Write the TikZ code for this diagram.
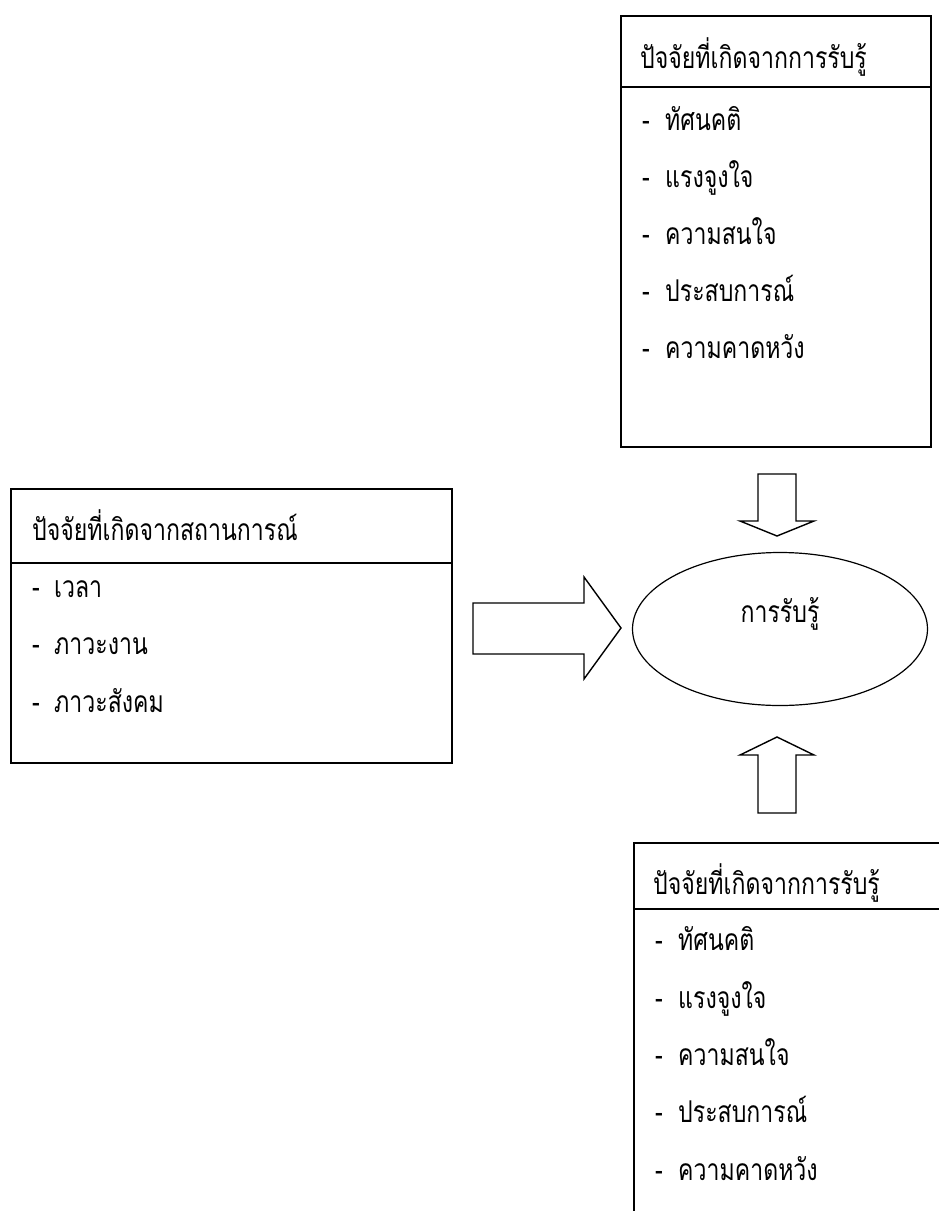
\documentclass[tikz,border=0pt]{standalone}
\usepackage{fontspec}
\usetikzlibrary{shapes.geometric}
\newfontfamily\thaifont[Script=Thai,FakeStretch=0.77]{Loma}
\begin{document}
\begin{tikzpicture}[x=1pt,y=-1pt,
  box/.style={draw, line width=2pt, inner sep=0pt, anchor=north west},
  rule/.style={line width=2pt},
  txt/.style={anchor=base west, inner sep=0pt, font=\thaifont\fontsize{30pt}{36pt}\selectfont},
  blockarrow/.style={draw, line width=1.4pt, fill=white, line join=miter}]
\useasboundingbox (0,0) rectangle (939,1211);
\clip (0,0) rectangle (939,1211);
% top box
\node[box, minimum width=310pt, minimum height=431pt] (topbox) at (620,15) {};
\draw[rule] (topbox.west |- 0,87) -- (topbox.east |- 0,87);
\node[txt] (th) at (640,68) {ปัจจัยที่เกิดจากการรับรู้};
\foreach \y/\w [count=\i] in {130/ทัศนคติ,187/แรงจูงใจ,244/ความสนใจ,301/ประสบการณ์,358/ความคาดหวัง}{
  \node[txt] (td\i) at (642,\y) {-};
  \node[txt] (t\i) at (665,\y) {\w};
}
% left box
\node[box, minimum width=441pt, minimum height=274pt] (leftbox) at (10,488) {};
\draw[rule] (leftbox.west |- 0,563) -- (leftbox.east |- 0,563);
\node[txt] (lh) at (32,540) {ปัจจัยที่เกิดจากสถานการณ์};
\foreach \y/\w [count=\i] in {597/เวลา,654/ภาวะงาน,712/ภาวะสังคม}{
  \node[txt] (ld\i) at (32,\y) {-};
  \node[txt] (l\i) at (54,\y) {\w};
}
% bottom box
\node[box, minimum width=400pt, minimum height=500pt] (botbox) at (633,842) {};
\draw[rule] (botbox.west |- 0,909) -- (botbox.east |- 0,909);
\node[txt] (bh) at (653,894) {ปัจจัยที่เกิดจากการรับรู้};
\foreach \y/\w [count=\i] in {950/ทัศนคติ,1008/แรงจูงใจ,1065/ความสนใจ,1122/ประสบการณ์,1180/ความคาดหวัง}{
  \node[txt] (bd\i) at (655,\y) {-};
  \node[txt] (b\i) at (678,\y) {\w};
}
% ellipse
\node[draw, ellipse, line width=1.2pt, minimum width=295pt, minimum height=153pt, inner sep=0pt] (perc) at (780,629) {};
\node[txt, anchor=base] (pt) at (780,622) {การรับรู้};
% block arrows
\draw[blockarrow] (758,474) -- (796,474) -- (796,521) -- (814,521) -- (777,536) -- (740,521) -- (758,521) -- cycle;
\draw[blockarrow] (758,813) -- (758,755) -- (740,755) -- (777,737) -- (814,755) -- (796,755) -- (796,813) -- cycle;
\draw[blockarrow] (473,603) -- (584,603) -- (584,577) -- (621,628) -- (584,679) -- (584,654) -- (473,654) -- cycle;
\end{tikzpicture}
\end{document}
